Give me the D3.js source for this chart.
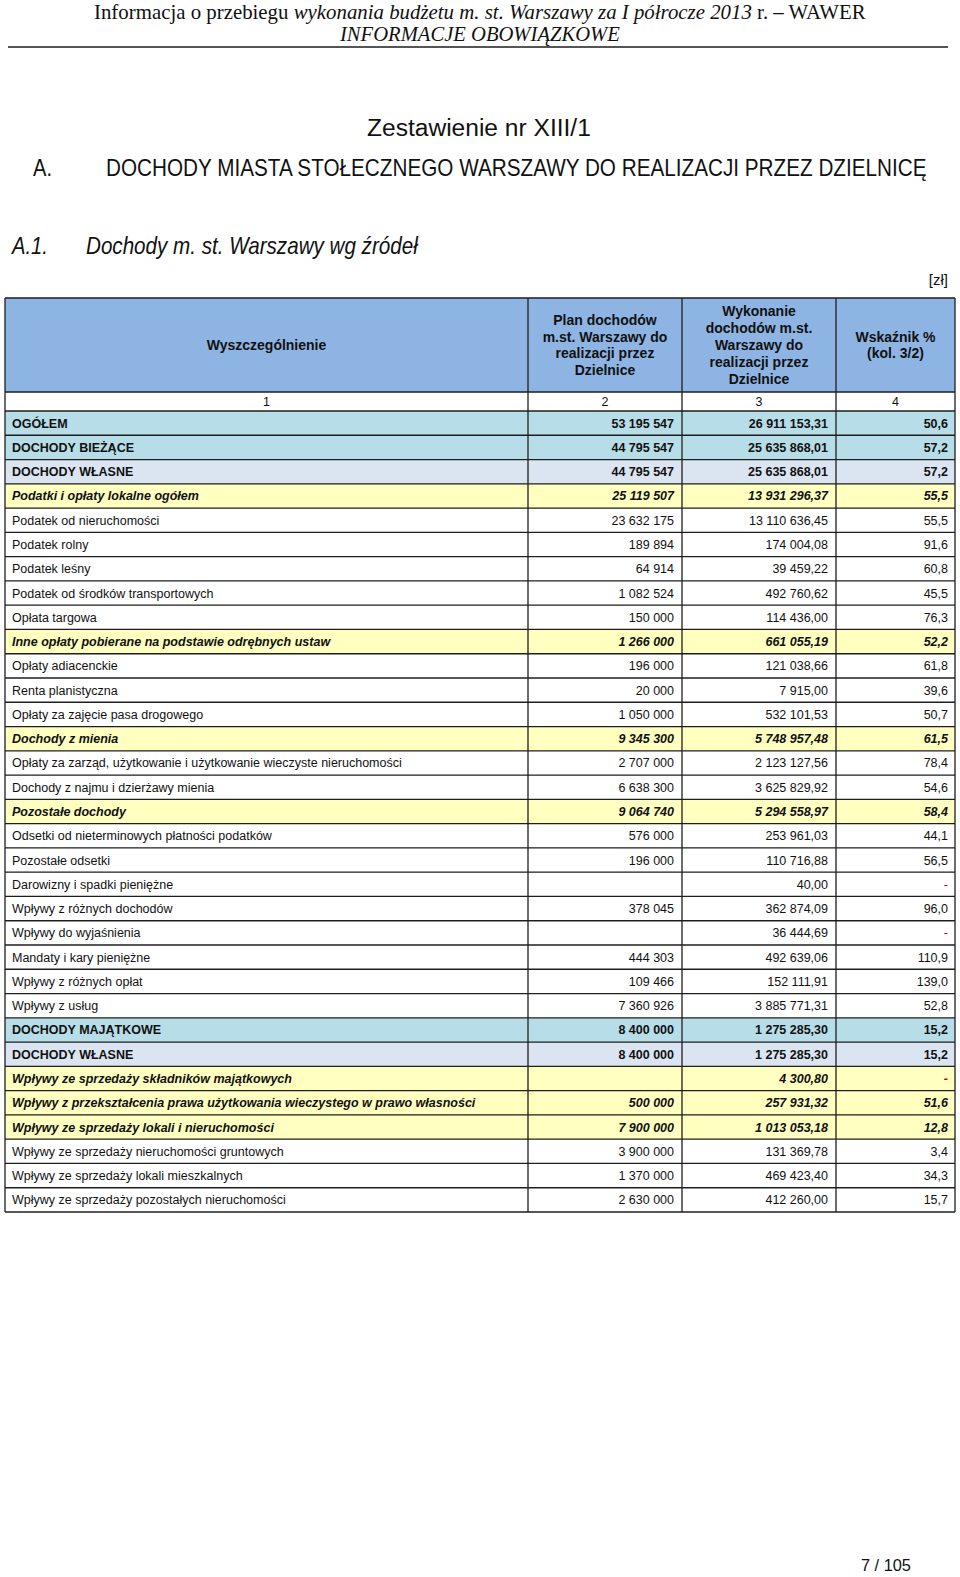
<!DOCTYPE html>
<html>
<head>
<meta charset="utf-8">
<script src="https://cdn.jsdelivr.net/npm/d3@7"></script>
<style>
  body { margin: 0; background: #fff; }
  svg { display: block; }
</style>
</head>
<body>
<div id="page"></div>
<script>
// table rows
var labels = [
  'OGÓŁEM', 'DOCHODY BIEŻĄCE', 'DOCHODY WŁASNE',
  'Podatki i opłaty lokalne ogółem', 'Podatek od nieruchomości', 'Podatek rolny',
  'Podatek leśny', 'Podatek od środków transportowych', 'Opłata targowa',
  'Inne opłaty pobierane na podstawie odrębnych ustaw', 'Opłaty adiacenckie',
  'Renta planistyczna', 'Opłaty za zajęcie pasa drogowego', 'Dochody z mienia',
  'Opłaty za zarząd, użytkowanie i użytkowanie wieczyste nieruchomości',
  'Dochody z najmu i dzierżawy mienia', 'Pozostałe dochody',
  'Odsetki od nieterminowych płatności podatków', 'Pozostałe odsetki',
  'Darowizny i spadki pieniężne', 'Wpływy z różnych dochodów', 'Wpływy do wyjaśnienia',
  'Mandaty i kary pieniężne', 'Wpływy z różnych opłat', 'Wpływy z usług',
  'DOCHODY MAJĄTKOWE', 'DOCHODY WŁASNE', 'Wpływy ze sprzedaży składników majątkowych',
  'Wpływy z przekształcenia prawa użytkowania wieczystego w prawo własności',
  'Wpływy ze sprzedaży lokali i nieruchomości', 'Wpływy ze sprzedaży nieruchomości gruntowych',
  'Wpływy ze sprzedaży lokali mieszkalnych', 'Wpływy ze sprzedaży pozostałych nieruchomości'
];
// top = level 1 totals, own = dochody własne, group = italic subtotal, item = plain row
var rowTypes = [
  'top', 'top', 'own', 'group', 'item', 'item', 'item', 'item', 'item',
  'group', 'item', 'item', 'item', 'group', 'item', 'item', 'group',
  'item', 'item', 'item', 'item', 'item', 'item', 'item', 'item',
  'top', 'own', 'group', 'group', 'group', 'item', 'item', 'item'
];
var plan = [
  53195547, 44795547, 44795547, 25119507, 23632175, 189894, 64914, 1082524, 150000,
  1266000, 196000, 20000, 1050000, 9345300, 2707000, 6638300, 9064740,
  576000, 196000, null, 378045, null, 444303, 109466, 7360926,
  8400000, 8400000, null, 500000, 7900000, 3900000, 1370000, 2630000
];
var wykonanie = [
  26911153.31, 25635868.01, 25635868.01, 13931296.37, 13110636.45, 174004.08, 39459.22, 492760.62, 114436.00,
  661055.19, 121038.66, 7915.00, 532101.53, 5748957.48, 2123127.56, 3625829.92, 5294558.97,
  253961.03, 110716.88, 40.00, 362874.09, 36444.69, 492639.06, 152111.91, 3885771.31,
  1275285.30, 1275285.30, 4300.80, 257931.32, 1013053.18, 131369.78, 469423.40, 412260.00
];
var wskaznik = [
  50.6, 57.2, 57.2, 55.5, 55.5, 91.6, 60.8, 45.5, 76.3,
  52.2, 61.8, 39.6, 50.7, 61.5, 78.4, 54.6, 58.4,
  44.1, 56.5, null, 96.0, null, 110.9, 139.0, 52.8,
  15.2, 15.2, null, 51.6, 12.8, 3.4, 34.3, 15.7
];
var colNumbers = ['1', '2', '3', '4'];
var headPlan = ['Plan dochodów', 'm.st. Warszawy do', 'realizacji przez', 'Dzielnice'];
var headWyk = ['Wykonanie', 'dochodów m.st.', 'Warszawy do', 'realizacji przez', 'Dzielnice'];
var headWsk = ['Wskaźnik %', '(kol. 3/2)'];

var W = 960, H = 1577;
var sans = 'Liberation Sans, Arial, sans-serif';
var serif = 'Liberation Serif, Times New Roman, serif';

var pl = d3.formatLocale({decimal: ',', thousands: '\u00a0', grouping: [3], currency: ['', ' zł']});
var fmtInt = pl.format(',.0f'), fmtDec = pl.format(',.2f'), fmtPct = pl.format('.1f');

var fills = {top: '#b7dde8', own: '#dbe5f1', group: '#ffffc0', item: '#ffffff'};

var svg = d3.select('#page').append('svg')
  .attr('width', W).attr('height', H)
  .style('background', '#fff');

// condensed look of the scanned fonts: squeeze text horizontally to a given width
function squeeze(text, x, y, len) {
  var natural = text.node().getComputedTextLength();
  text.attr('x', 0).attr('y', 0)
    .attr('transform', 'translate(' + x + ',' + y + ') scale(' + (len / natural) + ',1)');
  return text;
}

// page header
var h1 = svg.append('text')
  .style('font-family', serif).style('font-size', '20px').style('fill', '#111');
h1.append('tspan').text('Informacja o przebiegu  ');
h1.append('tspan').style('font-style', 'italic').text('wykonania budżetu m. st. Warszawy za I półrocze 2013');
h1.append('tspan').text(' r. – WAWER');
squeeze(h1, 94, 19, 772);

squeeze(svg.append('text')
  .style('font-family', serif).style('font-size', '20px').style('font-style', 'italic').style('fill', '#111')
  .text('INFORMACJE OBOWIĄZKOWE'), 340, 41, 280);

svg.append('line')
  .attr('x1', 8).attr('x2', 948).attr('y1', 47).attr('y2', 47)
  .style('stroke', '#555').style('stroke-width', 2);

// titles
function title(x, y, len, txt, italic) {
  squeeze(svg.append('text')
    .style('font-family', sans).style('font-size', '23px')
    .style('font-style', italic ? 'italic' : 'normal').style('fill', '#111')
    .text(txt), x, y, len);
}
title(367, 136, 224, 'Zestawienie nr XIII/1');
title(33, 176, 19, 'A.');
title(106, 176, 821, 'DOCHODY MIASTA STOŁECZNEGO WARSZAWY DO REALIZACJI PRZEZ DZIELNICĘ');
title(12, 254, 36, 'A.1.', true);
title(86, 254, 332, 'Dochody m. st. Warszawy wg źródeł', true);

svg.append('text')
  .attr('x', 948).attr('y', 285).attr('text-anchor', 'end')
  .style('font-family', sans).style('font-size', '15px').style('fill', '#111')
  .text('[zł]');

// table geometry
var edges = [5, 528, 682, 836, 955];
var headTop = 298, headBot = 392, numBot = 411, tableBot = 1212;
var y = d3.scaleBand().domain(d3.range(labels.length)).range([numBot, tableBot]);
var stroke = '#1e1e1e', sw = 1.3;

// header cells
var head = svg.append('g');
head.selectAll('rect').data(d3.range(4)).enter().append('rect')
  .attr('x', function (i) { return edges[i]; })
  .attr('y', headTop)
  .attr('width', function (i) { return edges[i + 1] - edges[i]; })
  .attr('height', headBot - headTop)
  .style('fill', '#8eb4e3');

var headLines = [['Wyszczególnienie'], headPlan, headWyk, headWsk];
headLines.forEach(function (lines, c) {
  var cx = (edges[c] + edges[c + 1]) / 2;
  var cy = (headTop + headBot) / 2;
  var lh = 16.8;
  var t = head.append('text')
    .attr('text-anchor', 'middle')
    .style('font-family', sans).style('font-size', '14px').style('font-weight', 'bold').style('fill', '#111');
  t.selectAll('tspan').data(lines).enter().append('tspan')
    .attr('x', cx)
    .attr('y', function (d, i) { return cy + (i - (lines.length - 1) / 2) * lh + 5; })
    .text(function (d) { return d; });
});

// column number row
svg.selectAll('text.colnum').data(colNumbers).enter().append('text')
  .attr('class', 'colnum')
  .attr('x', function (d, i) { return (edges[i] + edges[i + 1]) / 2; })
  .attr('y', (headBot + numBot) / 2 + 4.5)
  .attr('text-anchor', 'middle')
  .style('font-family', sans).style('font-size', '12.5px').style('fill', '#111')
  .text(function (d) { return d; });

// data rows
var rows = svg.append('g').selectAll('g').data(d3.range(labels.length)).enter().append('g')
  .attr('transform', function (i) { return 'translate(0,' + y(i) + ')'; });

rows.append('rect')
  .attr('x', edges[0]).attr('width', edges[4] - edges[0])
  .attr('height', y.bandwidth())
  .style('fill', function (i) { return fills[rowTypes[i]]; });

function cellStyle(sel) {
  sel.style('font-family', sans).style('font-size', '12.5px').style('fill', '#111')
    .style('font-weight', function (i) { return rowTypes[i] === 'item' ? 'normal' : 'bold'; })
    .style('font-style', function (i) { return rowTypes[i] === 'group' ? 'italic' : 'normal'; });
}
var ty = y.bandwidth() / 2 + 4.5;

rows.append('text')
  .attr('x', edges[0] + 7).attr('y', ty)
  .call(cellStyle)
  .text(function (i) { return labels[i]; });

rows.append('text')
  .attr('x', edges[2] - 8).attr('y', ty).attr('text-anchor', 'end')
  .call(cellStyle)
  .text(function (i) { return plan[i] == null ? '' : fmtInt(plan[i]); });

rows.append('text')
  .attr('x', edges[3] - 8).attr('y', ty).attr('text-anchor', 'end')
  .call(cellStyle)
  .text(function (i) { return wykonanie[i] == null ? '' : fmtDec(wykonanie[i]); });

rows.append('text')
  .attr('x', edges[4] - 7).attr('y', ty).attr('text-anchor', 'end')
  .call(cellStyle)
  .style('fill', function (i) { return wskaznik[i] == null ? '#c00000' : '#111'; })
  .text(function (i) { return wskaznik[i] == null ? '-' : fmtPct(wskaznik[i]); });

// grid lines
var grid = svg.append('g').style('stroke', stroke).style('stroke-width', sw).style('fill', 'none');
var hLines = [headTop, headBot, numBot].concat(d3.range(1, labels.length).map(function (i) { return y(i); }), [tableBot]);
grid.selectAll('line.h').data(hLines).enter().append('line')
  .attr('class', 'h')
  .attr('x1', edges[0]).attr('x2', edges[4])
  .attr('y1', function (d) { return d; }).attr('y2', function (d) { return d; });
grid.selectAll('line.v').data(edges).enter().append('line')
  .attr('class', 'v')
  .attr('x1', function (d) { return d; }).attr('x2', function (d) { return d; })
  .attr('y1', headTop).attr('y2', tableBot);

// page number
squeeze(svg.append('text')
  .style('font-family', sans).style('font-size', '16px').style('fill', '#111')
  .text('7 / 105'), 861, 1571, 50);
</script>
</body>
</html>
